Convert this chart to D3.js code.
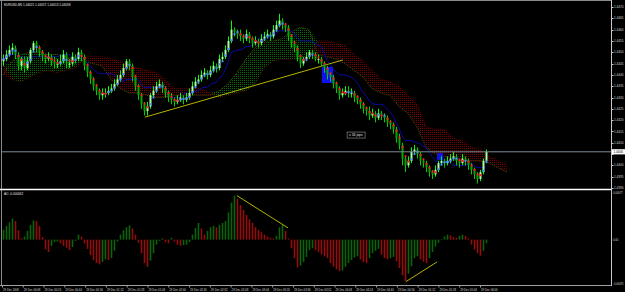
<!DOCTYPE html>
<html>
<head>
<meta charset="utf-8">
<script src="https://cdn.jsdelivr.net/npm/d3@7"></script>
<style>
  html, body { margin: 0; padding: 0; background: #000; overflow: hidden; }
  svg { display: block; }
  text { font-family: "Liberation Sans", Arial, sans-serif; }
</style>
</head>
<body>
<svg id="chart" width="625" height="292"></svg>
<script>
(function () {
  'use strict';

  // prices are stored as pips above BASE
  const BASE = 1.4380;
  const symbolTitle = 'EURUSD,M5  1.44021 1.44072 1.44013 1.44058';

  const openPips = [66,67,69,71,72,69,64,67,63,66, 71,74,72,70,68,67,68,66,65,65,
    66,69,65,65,68,67,70,68,64,61, 58,55,53,51,52,52,53,54,56,58,
    60,63,66,64,59,55,51,47,44,46, 51,53,55,56,54,52,50,49,48,49,
    50,49,50,52,55,57,58,60,61,60, 62,64,63,67,68,71,75,80,79,78,
    77,76,78,76,74,75,74,76,77,78, 77,80,82,84,82,81,77,74,72,68,
    65,67,68,70,69,67,67,65,63,60, 59,56,54,51,52,53,52,52,50,49,
    47,45,44,42,43,41,43,42,41,39, 38,36,32,29,23,20,22,26,27,25,
    22,21,19,17,16,18,21,22,21,22, 23,24,22,21,23,22,20,18,16,14, 17,22];
  const highPips = [69,71,73,74,73,70,68,68,68,72, 75,75,73,71,69,70,69,68,67,69,
    71,70,67,70,69,72,71,69,65,62, 59,56,54,54,54,55,56,58,60,62,
    65,67,67,65,60,56,52,48,48,52, 55,57,58,57,55,53,52,50,51,52,
    51,52,54,57,59,60,62,63,62,64, 66,65,69,70,73,77,84,81,80,80,
    78,80,79,77,77,76,78,79,80,79, 82,84,87,85,83,82,78,75,73,69,
    68,70,71,71,70,69,68,66,64,61, 60,57,55,54,55,55,54,53,51,50,
    48,46,46,45,44,45,44,43,42,40, 39,37,34,30,24,24,28,29,28,26,
    23,22,20,18,20,22,24,23,24,25, 26,25,23,25,24,23,21,19,17,18, 23,27];
  const lowPips = [64,66,68,69,67,62,62,61,62,65, 70,70,68,66,65,66,64,63,63,64,
    65,63,63,64,65,66,66,62,59,56, 53,51,49,49,50,51,52,53,55,57,
    59,62,62,57,53,49,45,42,42,45, 50,52,54,52,50,48,47,46,47,48,
    47,48,49,51,54,56,57,59,58,59, 61,61,62,66,67,70,74,77,76,75,
    74,75,74,72,73,72,73,75,76,75, 76,79,81,80,79,75,72,70,66,63,
    64,66,67,67,66,65,64,61,58,57, 54,52,49,50,51,50,50,48,47,45,
    43,42,40,41,39,40,40,39,37,36, 34,30,27,20,17,19,21,25,23,20,
    19,17,15,14,15,17,20,19,20,21, 22,20,19,20,20,18,16,14,12,13, 16,21];
  const closePips = [67,69,71,72,69,64,67,63,66,71, 74,72,70,68,67,68,66,65,65,66,
    69,65,65,68,67,70,68,64,61,58, 55,53,51,52,52,53,54,56,58,60,
    63,66,64,59,55,51,47,44,46,51, 53,55,56,54,52,50,49,48,49,50,
    49,50,52,55,57,58,60,61,60,62, 64,63,67,68,71,75,80,79,78,77,
    76,78,76,74,75,74,76,77,78,77, 80,82,84,82,81,77,74,72,68,65,
    67,68,70,69,67,67,65,63,60,59, 56,54,51,52,53,52,52,50,49,47,
    45,44,42,43,41,43,42,41,39,38, 36,32,29,23,20,22,26,27,25,22,
    21,19,17,16,18,21,22,21,22,23, 24,22,21,23,22,20,18,16,14,17, 22,26];

  // Ichimoku spans (pips above BASE), one value every 3 bars, running 7 bars past the last candle
  const spanAPips = [60,66,69,70,70,69,69,68,67,66, 65,64,58,54,52,52,51,50,50,51,
    51,51,51,51,53,56,61,67,72,75, 75,76,79,81,80,69,68,67,65,62,
    59,54,52,51,46,43,37,28,25,24, 23,22,22,22,21,19,17];
  const spanBPips = [64,58,57,59,61,62,61,62,63,68, 68,68,67,66,64,63,62,61,58,54,
    54,54,54,52,50,51,52,53,56,63, 66,67,67,67,69,75,75,74,73,69,
    66,62,58,57,55,51,47,37,36,36, 32,31,28,27,24,22,20];
  const CLOUD_STEP = 3;

  // Awesome Oscillator, units of 0.00001
  const aoValues = [16,22,28,34,30,15,2,5,14,24, 31,30,22,4,-16,-20,-10,-4,-3,-6,
    -10,-13,-17,-12,-2,8,5,-6,-15,-25, -33,-38,-40,-36,-32,-33,-30,-18,-3,8,
    15,20,23,18,8,-5,-22,-38,-44,-34, -22,-8,-2,2,-4,-6,3,-3,-8,-10,
    -9,-8,-4,8,19,27,18,8,14,20, 22,20,24,27,30,44,60,71,66,56,
    48,40,33,27,20,16,12,8,5,3, 2,6,20,24,14,2,-14,-30,-45,-42,
    -36,-28,-17,-14,-17,-20,-24,-27,-30,-38, -44,-48,-51,-50,-44,-38,-33,-29,-27,-32,
    -36,-38,-30,-22,-18,-15,-24,-30,-32,-30, -28,-35,-46,-58,-67,-55,-43,-30,-27,-32,
    -36,-38,-30,-20,-11,-5,1,5,8,7, 4,3,6,8,6,2,-8,-16,-22,-26, -18,-6];

  const priceTicks = [1.4470,1.4465,1.4460,1.4455,1.4450,1.4445,1.4440,1.4435,1.4430,
    1.4425,1.4420,1.4415,1.4410,1.4405,1.4400,1.4395,1.4390];
  const timeLabels = ['29 Dec 2009','29 Dec 00:08','29 Dec 00:24','29 Dec 00:40','29 Dec 00:56',
    '29 Dec 01:12','29 Dec 01:28','29 Dec 01:44','29 Dec 02:00','29 Dec 02:16','29 Dec 02:32',
    '29 Dec 02:48','29 Dec 03:04','29 Dec 03:20','29 Dec 03:36','29 Dec 03:52','29 Dec 04:08',
    '29 Dec 04:24','29 Dec 04:40','29 Dec 04:56','29 Dec 05:12','29 Dec 05:28','29 Dec 05:44',
    '29 Dec 06:00'];
  const aoTicks = [0.00077, 0, -0.00075];

  // drawn objects: [bar, pips] pairs
  const trendPrice = [[47.3, 41.3], [113.3, 66.6]];
  const trendAO = [[[78, 71], [95, 19]], [[134.3, -68], [144.7, -36]]];
  const zones = [[106.3, 110, 56.4, 63.5], [144.7, 146.7, 22.3, 25.4]];
  const measureLabel = {bar: 114.7, pips: 33.4, text: 'x 34 pips'};

  const P = v => BASE + v / 10000;
  const W = 625, H = 292;
  const right = 611, mainBottom = 189;

  const svg = d3.select('#chart');
  svg.append('rect').attr('width', W).attr('height', H).attr('fill', '#000');

  const x = d3.scaleLinear().domain([0, closePips.length - 1]).range([3, 486]);
  const y = d3.scaleLinear().domain([1.4390, 1.4470]).range([188, 7]);
  const yAO = d3.scaleLinear().domain([-0.00075, 0.00077]).range([286, 192]);
  const xTime = d3.scaleLinear().domain([0, timeLabels.length - 1]).range([2, 480]);

  const defs = svg.append('defs');
  const pat = (id, col) => {
    const p = defs.append('pattern').attr('id', id).attr('width', 2).attr('height', 2)
      .attr('patternUnits', 'userSpaceOnUse');
    p.append('rect').attr('width', 1).attr('height', 1).attr('fill', col);
  };
  pat('dotsRed', '#780000');
  pat('dotsGreen', '#006c00');
  defs.append('clipPath').attr('id', 'clipMain')
    .append('rect').attr('x', 2).attr('y', 1).attr('width', right - 2).attr('height', mainBottom - 2);
  defs.append('clipPath').attr('id', 'clipAO')
    .append('rect').attr('x', 2).attr('y', 191).attr('width', right - 2).attr('height', 94);

  const main = svg.append('g').attr('clip-path', 'url(#clipMain)');

  // cloud
  const cloud = spanAPips.map((a, k) => ({i: k * CLOUD_STEP, a: P(a), b: P(spanBPips[k])}));
  main.append('path').datum(cloud)
    .attr('d', d3.area().x(d => x(d.i)).y0(d => y(d.b)).y1(d => y(Math.max(d.a, d.b))))
    .attr('fill', 'url(#dotsGreen)');
  main.append('path').datum(cloud)
    .attr('d', d3.area().x(d => x(d.i)).y0(d => y(d.b)).y1(d => y(Math.min(d.a, d.b))))
    .attr('fill', 'url(#dotsRed)');
  main.append('path').datum(cloud)
    .attr('d', d3.line().x(d => x(d.i)).y(d => y(d.a)))
    .attr('fill', 'none').attr('stroke', '#5a6a00').attr('stroke-width', 0.8).attr('stroke-dasharray', '1,1');
  main.append('path').datum(cloud)
    .attr('d', d3.line().x(d => x(d.i)).y(d => y(d.b)))
    .attr('fill', 'none').attr('stroke', '#700000').attr('stroke-width', 0.8).attr('stroke-dasharray', '1,1');

  const bars = closePips.map((c, i) => ({
    i, o: P(openPips[i]), h: P(highPips[i]), l: P(lowPips[i]), c: P(c)
  }));

  // slow line: mid of high/low channel
  const midLine = bars.map((d, i) => {
    const win = bars.slice(Math.max(0, i - 11), i + 1);
    return {i, v: (d3.max(win, e => e.h) + d3.min(win, e => e.l)) / 2};
  });
  main.append('path').datum(midLine)
    .attr('d', d3.line().x(d => x(d.i)).y(d => y(d.v)))
    .attr('fill', 'none').attr('stroke', '#0808a0').attr('stroke-width', 1);

  // trend line on price
  main.append('line')
    .attr('x1', x(trendPrice[0][0])).attr('y1', y(P(trendPrice[0][1])))
    .attr('x2', x(trendPrice[1][0])).attr('y2', y(P(trendPrice[1][1])))
    .attr('stroke', '#b4b400').attr('stroke-width', 1);

  // zones
  main.selectAll('.zone').data(zones).enter().append('rect')
    .attr('class', 'zone')
    .attr('x', d => x(d[0])).attr('width', d => x(d[1]) - x(d[0]))
    .attr('y', d => y(P(d[3]))).attr('height', d => y(P(d[2])) - y(P(d[3])))
    .attr('fill', '#1010f0');

  // candles
  const cg = main.append('g');
  cg.selectAll('line').data(bars).enter().append('line')
    .attr('x1', d => x(d.i) + 0.5).attr('x2', d => x(d.i) + 0.5)
    .attr('y1', d => y(d.h)).attr('y2', d => y(d.l))
    .attr('stroke', d => d.c >= d.o ? '#00ff00' : '#00d000');
  cg.selectAll('rect').data(bars).enter().append('rect')
    .attr('x', d => x(d.i) - 0.5).attr('width', 2)
    .attr('y', d => y(Math.max(d.o, d.c)))
    .attr('height', d => Math.max(1, Math.abs(y(d.o) - y(d.c))))
    .attr('fill', d => d.c >= d.o ? '#a8ffa8' : '#00a800');

  // fast average drawn as coloured dots
  const fast = bars.map((d, i) => ({i, v: d3.mean(bars.slice(Math.max(0, i - 2), i + 1), e => e.c)}));
  main.selectAll('.fast').data(fast).enter().append('rect')
    .attr('class', 'fast')
    .attr('x', d => x(d.i) - 0.5).attr('y', d => y(d.v) - 1)
    .attr('width', 2).attr('height', 2)
    .attr('fill', (d, i) => i > 0 && d.v < fast[i - 1].v ? '#ff1a1a' : '#4a8cff');

  // measurement label
  const ml = main.append('g')
    .attr('transform', `translate(${x(measureLabel.bar)},${y(P(measureLabel.pips))})`);
  ml.append('rect').attr('x', 0).attr('y', -3).attr('width', 18).attr('height', 6)
    .attr('fill', '#000').attr('stroke', '#9a9a9a').attr('stroke-width', 0.6);
  ml.append('text').attr('x', 2).attr('y', 1.2).attr('font-size', 3.4)
    .attr('fill', '#e0e0e0').text(measureLabel.text);

  // bid line
  const last = bars[bars.length - 1].c;
  svg.append('line').attr('x1', 2).attr('x2', right).attr('y1', y(last)).attr('y2', y(last))
    .attr('stroke', '#7d8a96').attr('stroke-width', 1);

  // title
  svg.append('text').attr('x', 4).attr('y', 5.5).attr('font-size', 3.1).attr('fill', '#e8e8e8')
    .text(symbolTitle);

  // AO window
  const ao = svg.append('g').attr('clip-path', 'url(#clipAO)');
  ao.selectAll('rect').data(aoValues).enter().append('rect')
    .attr('x', (d, i) => x(i) - 0.3).attr('width', 1.6)
    .attr('y', d => Math.min(yAO(0), yAO(d / 1e5)))
    .attr('height', d => Math.abs(yAO(d / 1e5) - yAO(0)))
    .attr('fill', (d, i) => i > 0 && d < aoValues[i - 1] ? '#960c0c' : '#0a640a');
  ao.selectAll('.tl').data(trendAO).enter().append('line')
    .attr('x1', d => x(d[0][0])).attr('y1', d => yAO(d[0][1] / 1e5))
    .attr('x2', d => x(d[1][0])).attr('y2', d => yAO(d[1][1] / 1e5))
    .attr('stroke', '#b4b400').attr('stroke-width', 1);
  svg.append('text').attr('x', 4).attr('y', 194.5).attr('font-size', 3.1).attr('fill', '#e8e8e8')
    .text('AO -0.000062');

  // frame
  svg.append('line').attr('x1', 0).attr('x2', right).attr('y1', 0.5).attr('y2', 0.5)
    .attr('stroke', '#8a8a8a');
  svg.append('line').attr('x1', 1.5).attr('x2', 1.5).attr('y1', 0).attr('y2', 286)
    .attr('stroke', '#8a8a8a');
  svg.append('line').attr('x1', 0).attr('x2', right + 1).attr('y1', mainBottom + 0.5).attr('y2', mainBottom + 0.5)
    .attr('stroke', '#ffffff').attr('stroke-width', 1.6);
  svg.append('line').attr('x1', right + 0.5).attr('x2', right + 0.5).attr('y1', 0).attr('y2', 286)
    .attr('stroke', '#c8c8c8');
  svg.append('line').attr('x1', 0).attr('x2', right).attr('y1', 285.5).attr('y2', 285.5)
    .attr('stroke', '#a0a0a0');

  // price axis (tick hidden under the bid box is skipped)
  const shown = priceTicks.filter(d => Math.abs(y(d) - y(last)) > 4);
  const pa = svg.append('g');
  pa.selectAll('line').data(priceTicks).enter().append('line')
    .attr('x1', right).attr('x2', right + 2.5)
    .attr('y1', d => Math.round(y(d)) + 0.5).attr('y2', d => Math.round(y(d)) + 0.5)
    .attr('stroke', '#c8c8c8');
  pa.selectAll('text').data(shown).enter().append('text')
    .attr('x', right + 3).attr('y', d => y(d) + 1.1)
    .attr('font-size', 3.1).attr('fill', '#d8d8d8')
    .text(d => d.toFixed(4));
  svg.append('rect').attr('x', right + 1).attr('y', y(last) - 2.6).attr('width', 13).attr('height', 5.2)
    .attr('fill', '#ffffff');
  svg.append('text').attr('x', right + 2.5).attr('y', y(last) + 1.1).attr('font-size', 3.1)
    .attr('fill', '#000').text(last.toFixed(4));

  // AO axis
  svg.selectAll('.aot').data(aoTicks).enter().append('text')
    .attr('class', 'aot')
    .attr('x', right + 2).attr('y', (d, k) => k === 0 ? yAO(d) + 1.6 : (k === 2 ? yAO(d) - 1 : yAO(d) + 1.1))
    .attr('font-size', 2.7).attr('fill', '#d8d8d8')
    .text(d => d === 0 ? '0.00' : d.toFixed(5));

  // time axis
  const ta = svg.append('g');
  ta.selectAll('line').data(timeLabels).enter().append('line')
    .attr('x1', (d, k) => xTime(k) + 0.5).attr('x2', (d, k) => xTime(k) + 0.5)
    .attr('y1', 285.5).attr('y2', 287.5).attr('stroke', '#a0a0a0');
  ta.selectAll('text').data(timeLabels).enter().append('text')
    .attr('x', (d, k) => xTime(k) + 1).attr('y', 290.5)
    .attr('font-size', 2.8).attr('fill', '#d8d8d8')
    .text(d => d);
}());
</script>
</body>
</html>
